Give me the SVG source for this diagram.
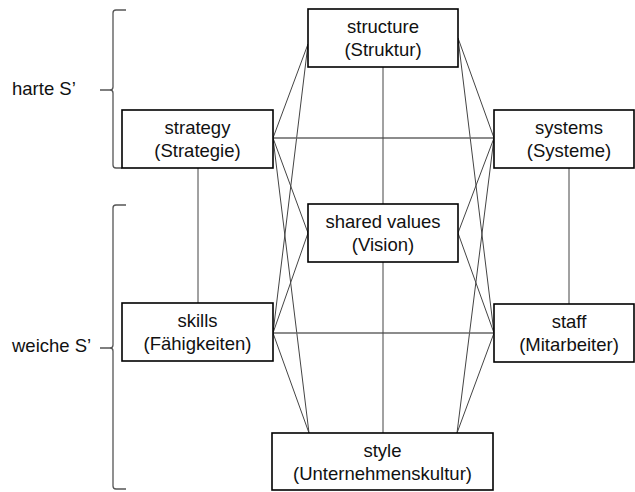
<svg xmlns="http://www.w3.org/2000/svg" width="635" height="492" viewBox="0 0 635 492">
<style>
.box{fill:#fff;stroke:#000;stroke-width:1.6}
.t{font-family:"Liberation Sans",Arial,sans-serif;font-size:18.5px;fill:#111;text-anchor:middle}
.lbl{font-family:"Liberation Sans",Arial,sans-serif;font-size:18.5px;fill:#111}
.c{stroke:#444;stroke-width:1;fill:none}
.h{stroke:#666;stroke-width:1.4;fill:none}
.br{stroke:#555;stroke-width:1.3;fill:none}
</style>
<rect width="635" height="492" fill="#fff"/>
<g id="connectors">
<line class="c" x1="273" y1="138" x2="308" y2="44"/>
<line class="c" x1="273" y1="138" x2="308" y2="233"/>
<line class="c" x1="273" y1="138" x2="309" y2="433"/>
<line class="c" x1="273" y1="333" x2="308" y2="44"/>
<line class="c" x1="273" y1="333" x2="308" y2="233"/>
<line class="c" x1="273" y1="333" x2="309" y2="433"/>
<line class="c" x1="494" y1="138" x2="458" y2="38"/>
<line class="c" x1="494" y1="138" x2="458" y2="233"/>
<line class="c" x1="494" y1="138" x2="457" y2="433"/>
<line class="c" x1="494" y1="333" x2="458" y2="38"/>
<line class="c" x1="494" y1="333" x2="458" y2="233"/>
<line class="c" x1="494" y1="333" x2="457" y2="433"/>
<line class="h" x1="273" y1="138" x2="494" y2="138"/>
<line class="h" x1="273" y1="333" x2="494" y2="333"/>
<line class="c" x1="198" y1="168" x2="198" y2="303"/>
<line class="c" x1="569" y1="168" x2="569" y2="304"/>
<line class="c" x1="383" y1="67" x2="383" y2="204"/>
<line class="c" x1="383" y1="262" x2="383" y2="433"/>
</g>
<g id="brace-harte">
<path class="br" d="M126,10 L116,10 Q113,10 113,13 L113,87 Q113,90 110,90 L100,90 M110,90 Q113,90 113,93 L113,165 Q113,168 116,168 L122,168"/>
<text class="lbl" x="12" y="95">harte S’</text>
</g>
<g id="brace-weiche">
<path class="br" d="M126,205 L116,205 Q113,205 113,208 L113,345 Q113,348 110,348 L100,348 M110,348 Q113,348 113,351 L113,486 Q113,489 116,489 L126,489"/>
<text class="lbl" x="12" y="352">weiche S’</text>
</g>
<g id="structure">
<rect class="box" x="308" y="9" width="150" height="58"/>
<text class="t" x="383" y="33">structure</text>
<text class="t" x="383" y="56">(Struktur)</text>
</g>
<g id="strategy">
<rect class="box" x="122" y="110" width="151" height="58"/>
<text class="t" x="197.5" y="134">strategy</text>
<text class="t" x="197.5" y="157">(Strategie)</text>
</g>
<g id="systems">
<rect class="box" x="494" y="110" width="140" height="58"/>
<text class="t" x="569" y="134">systems</text>
<text class="t" x="569" y="157">(Systeme)</text>
</g>
<g id="shared-values">
<rect class="box" x="308" y="204" width="150" height="58"/>
<text class="t" x="383" y="228">shared values</text>
<text class="t" x="383" y="251">(Vision)</text>
</g>
<g id="skills">
<rect class="box" x="122" y="303" width="151" height="58"/>
<text class="t" x="197.5" y="327">skills</text>
<text class="t" x="197.5" y="350">(Fähigkeiten)</text>
</g>
<g id="staff">
<rect class="box" x="494" y="304" width="140" height="58"/>
<text class="t" x="569" y="328">staff</text>
<text class="t" x="569" y="351">(Mitarbeiter)</text>
</g>
<g id="style">
<rect class="box" x="272" y="433" width="221" height="57"/>
<text class="t" x="382.5" y="457">style</text>
<text class="t" x="382.5" y="480">(Unternehmenskultur)</text>
</g>
</svg>
